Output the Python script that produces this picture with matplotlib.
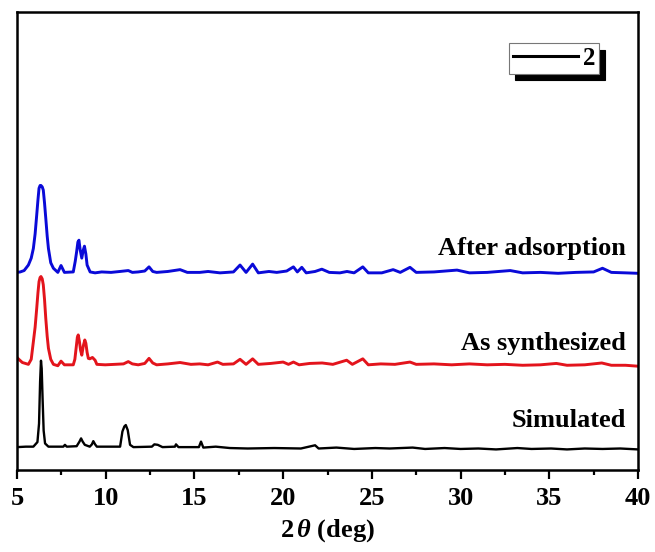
import matplotlib
matplotlib.use('Agg')
import matplotlib.pyplot as plt
from matplotlib.ticker import MultipleLocator

plt.rcParams['font.family'] = 'Liberation Serif'
plt.rcParams['font.weight'] = 'bold'
plt.rcParams['mathtext.fontset'] = 'custom'
plt.rcParams['mathtext.rm'] = 'Liberation Serif:bold'
plt.rcParams['mathtext.it'] = 'Liberation Serif:italic:bold'
plt.rcParams['mathtext.bf'] = 'Liberation Serif:bold'

# Simulated pattern (2theta, intensity in stacked units)
sim_x = [5.0, 5.5, 5.92, 6.15, 6.24, 6.30, 6.35, 6.39, 6.44, 6.50, 6.58, 6.77,
         7.61, 7.7, 7.8, 8.36, 8.52, 8.61, 8.70, 8.82, 9.1, 9.22, 9.30, 9.4,
         9.5, 10.81, 10.94, 11.05, 11.13, 11.24, 11.37, 11.56, 12.6, 12.74,
         12.93, 13.2, 13.9, 13.96, 14.1, 15.25, 15.37, 15.5, 16.2, 17.0, 18.0,
         19.5, 21.0, 21.8, 22.0, 23.0, 24.0, 25.2, 26.0, 27.3, 28.0, 29.1, 30.0,
         31.0, 32.0, 33.2, 34.0, 35.1, 36.0, 37.0, 38.0, 39.0, 40.0]
sim_y = [5.4, 5.5, 5.5, 6.5, 10.5, 19.6, 24.2, 22.5, 16.0, 9.0, 6.2, 5.5,
         5.5, 5.9, 5.5, 5.6, 6.6, 7.3, 6.6, 5.9, 5.5, 6.0, 6.7, 6.0,
         5.5, 5.5, 8.8, 9.9, 10.2, 9.1, 5.9, 5.4, 5.5, 6.0,
         5.9, 5.4, 5.5, 6.0, 5.4, 5.4, 6.6, 5.3, 5.5, 5.2, 5.1,
         5.2, 5.1, 5.8, 5.1, 5.3, 5.0, 5.2, 5.1, 5.3, 5.0, 5.2, 5.0,
         5.1, 4.9, 5.2, 5.0, 5.1, 4.9, 5.1, 5.0, 5.1, 4.9]

# As synthesized
syn_x = [5.0, 5.1, 5.3, 5.64, 5.8, 5.92, 6.02, 6.11, 6.18, 6.24, 6.30, 6.35,
         6.42, 6.48, 6.55, 6.62, 6.70, 6.77, 6.9, 7.05, 7.3, 7.48, 7.67, 8.17,
         8.26, 8.33, 8.40, 8.45, 8.52, 8.58, 8.65, 8.74, 8.82, 8.88, 8.95,
         9.02, 9.1, 9.25, 9.4, 9.5, 9.97, 10.5, 11.0, 11.27, 11.5, 11.83,
         12.2, 12.44, 12.65, 12.87, 13.5, 14.19, 14.8, 15.3, 15.77, 16.3, 16.6,
         17.2, 17.57, 17.91, 18.28, 18.6, 19.3, 20.0, 20.3, 20.58, 20.9, 21.5,
         22.2, 22.8, 23.58, 23.9, 24.49, 24.8, 25.5, 26.3, 27.15, 27.5, 28.5,
         29.5, 30.5, 31.5, 32.5, 33.5, 34.5, 35.4, 36.0, 37.0, 37.96, 38.5,
         39.3, 40.0]
syn_y = [24.9, 24.5, 23.8, 23.4, 24.5, 28.3, 31.5, 35.6, 39.0, 41.4, 42.3, 42.5,
         42.0, 40.7, 37.5, 33.4, 29.5, 26.9, 24.5, 23.4, 23.1, 24.1, 23.3, 23.3,
         24.5, 26.9, 29.3, 29.8, 28.3, 26.5, 25.4, 27.5, 28.7, 28.0, 26.0,
         24.7, 24.6, 24.9, 24.3, 23.4, 23.3, 23.4, 23.5, 24.0, 23.5, 23.3,
         23.6, 24.7, 23.7, 23.3, 23.5, 23.8, 23.4, 23.5, 23.3, 23.9, 23.4,
         23.5, 24.5, 23.4, 24.6, 23.4, 23.6, 23.9, 23.4, 23.9, 23.3, 23.6,
         23.7, 23.4, 24.3, 23.4, 24.6, 23.3, 23.5, 23.4, 23.9, 23.4, 23.5,
         23.3, 23.5, 23.3, 23.4, 23.2, 23.3, 23.6, 23.2, 23.3, 23.7, 23.2,
         23.2, 23.0]

# After adsorption
ads_x = [5.0, 5.18, 5.4, 5.64, 5.80, 5.92, 6.02, 6.11, 6.18, 6.24, 6.30, 6.35,
         6.42, 6.48, 6.55, 6.62, 6.70, 6.77, 6.9, 7.05, 7.3, 7.48, 7.67, 8.17,
         8.28, 8.36, 8.43, 8.49, 8.56, 8.65, 8.73, 8.80, 8.88, 8.95, 9.12, 9.4,
         9.77, 10.3, 10.8, 11.27, 11.5, 11.83, 12.2, 12.44, 12.65, 12.87, 13.5,
         14.19, 14.6, 15.3, 15.77, 16.44, 17.2, 17.57, 17.91, 18.28, 18.6, 19.2,
         19.64, 20.2, 20.58, 20.8, 21.05, 21.3, 21.8, 22.18, 22.6, 23.2, 23.6,
         24.0, 24.49, 24.8, 25.56, 26.2, 26.6, 27.15, 27.5, 28.5, 29.8, 30.5,
         31.5, 32.8, 33.5, 34.5, 35.5, 36.5, 37.5, 38.0, 38.5, 39.3, 40.0]
ads_y = [43.4, 43.5, 43.8, 45.0, 46.5, 48.6, 51.8, 55.9, 59.2, 61.7, 62.3, 62.3,
         62.0, 61.3, 58.5, 55.2, 51.3, 48.6, 45.5, 44.3, 43.4, 44.9, 43.4, 43.5,
         45.8, 47.9, 50.0, 50.4, 48.3, 46.5, 48.2, 49.1, 47.4, 45.0, 43.5, 43.3,
         43.5, 43.4, 43.6, 43.8, 43.4, 43.5, 43.7, 44.6, 43.6, 43.4, 43.6,
         44.0, 43.4, 43.4, 43.6, 43.3, 43.5, 45.0, 43.4, 45.2, 43.3, 43.6,
         43.4, 43.7, 44.6, 43.5, 44.5, 43.3, 43.6, 44.1, 43.4, 43.3, 43.6,
         43.3, 44.6, 43.3, 43.3, 44.0, 43.4, 44.5, 43.4, 43.5, 43.9, 43.3,
         43.4, 43.8, 43.3, 43.4, 43.2, 43.4, 43.5, 44.3, 43.4, 43.3, 43.2]

labels = ['Simulated', 'As synthesized', 'After adsorption']
label_y = [9.7, 26.5, 47.2]

fig = plt.figure(figsize=(6.55, 5.52), dpi=100)
ax = fig.add_axes([0.026, 0.1486, 0.948, 0.8294])

ax.plot(sim_x, sim_y, color='black', lw=1.7, label='2')
ax.plot(syn_x, syn_y, color='#e3141c', lw=2.1)
ax.plot(ads_x, ads_y, color='#0a0ad8', lw=2.1)

for txt, yy in zip(labels, label_y):
    ax.text(39.3, yy, txt, fontsize=19, fontweight='bold', ha='right', va='baseline')

ax.set_xlim(5, 40)
ax.set_ylim(0.43, 100)
ax.set_yticks([])
ax.xaxis.set_major_locator(MultipleLocator(5))
ax.xaxis.set_minor_locator(MultipleLocator(2.5))
ax.tick_params(axis='x', which='major', direction='out', length=6.5, width=1.6,
               labelsize=19, pad=6)
ax.tick_params(axis='x', which='minor', direction='out', length=3.5, width=1.6)
for sp in ax.spines.values():
    sp.set_linewidth(1.8)

ax.set_xlabel(r'2$\,\theta$ (deg)', fontsize=19, fontweight='bold', labelpad=5)

leg = ax.legend(loc='upper right', bbox_to_anchor=(0.937, 0.932), borderaxespad=0,
                fontsize=18, handlelength=2.6, handletextpad=0.2, borderpad=0.15,
                fancybox=False, framealpha=1,
                shadow={'ox': 4.5, 'oy': -4.5, 'facecolor': 'black',
                        'edgecolor': 'black', 'alpha': 1})
leg.get_frame().set_edgecolor('#777777')
leg.get_frame().set_linewidth(0.8)
for line in leg.get_lines():
    line.set_linewidth(2.2)

fig.savefig('out.png', dpi=100)
